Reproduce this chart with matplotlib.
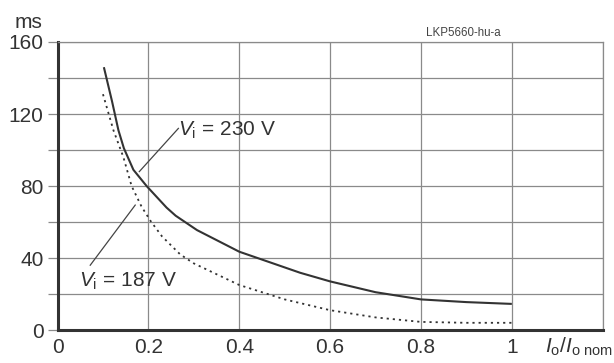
import matplotlib
matplotlib.use("Agg")
import matplotlib.pyplot as plt

plt.rcParams['font.family'] = ['Liberation Sans', 'DejaVu Sans']
plt.rcParams['mathtext.fontset'] = 'custom'
plt.rcParams['mathtext.rm'] = 'Liberation Sans'
plt.rcParams['mathtext.it'] = 'Liberation Sans:italic'

# hold-up time vs. relative output current
x_230 = [0.102, 0.12, 0.134, 0.146, 0.167, 0.196, 0.24, 0.26, 0.307, 0.4,
         0.534, 0.6, 0.7, 0.8, 0.9, 1.0]
t_230 = [146, 127, 111, 101, 89, 80, 68, 63.5, 55.5, 43.5,
         31.8, 27, 21, 17, 15.5, 14.5]
x_187 = [0.10, 0.123, 0.145, 0.163, 0.185, 0.205, 0.23, 0.27, 0.3, 0.4,
         0.5, 0.6, 0.7, 0.8, 0.9, 1.0]
t_187 = [131, 111, 96, 80, 68.5, 60.5, 52, 42, 37, 25,
         17, 11, 7, 4.5, 4, 4]

xticks = [0, 0.2, 0.4, 0.6, 0.8, 1.0]
xticklabels = ['0', '0.2', '0.4', '0.6', '0.8', '1']
yticks = [0, 40, 80, 120, 160]
ygrid = [20, 60, 100, 140]

fig = plt.figure(figsize=(6.14, 3.63), dpi=100)
ax = fig.add_axes([0.0937, 0.0909, 0.8879, 0.7934])

ax.plot(x_230, t_230, color='#333333', lw=1.5, solid_capstyle='butt')
ax.plot(x_187, t_187, color='#333333', lw=1.3, linestyle=(0, (1.2, 2.2)))

ax.set_xlim(0, 1.2)
ax.set_ylim(0, 160)
ax.set_xticks(xticks)
ax.set_xticklabels(xticklabels)
ax.set_xticks([1.2], minor=True)
ax.set_yticks(yticks)
ax.set_yticks(ygrid, minor=True)
ax.grid(True, which='both', color='#8a8a8a', lw=0.9)
ax.set_axisbelow(True)
ax.tick_params(axis='x', which='both', length=0, pad=6, labelsize=15, colors='#333333')
ax.tick_params(axis='y', which='both', length=7, width=0.9, color='#8a8a8a',
               pad=3, labelsize=15, labelcolor='#333333')

for s in ['top', 'right']:
    ax.spines[s].set_color('#8a8a8a')
    ax.spines[s].set_linewidth(0.9)
for s in ['left', 'bottom']:
    ax.spines[s].set_color('#333333')
    ax.spines[s].set_linewidth(2.2)

# leader lines and labels
ax.plot([0.180, 0.266], [88, 112], color='#444444', lw=0.9)
ax.plot([0.072, 0.171], [36, 69.4], color='#444444', lw=0.9)
ax.text(0.265, 108, r'$V_{\rm i}$ = 230 V', fontsize=15, color='#333333')
ax.text(0.048, 24, r'$V_{\rm i}$ = 187 V', fontsize=15, color='#333333')

fig.text(0.023, 0.939, 'ms', fontsize=15, color='#333333', va='center')
fig.text(0.754, 0.909, 'LKP5660-hu-a', fontsize=8.3, color='#444444', ha='center', va='center')
fig.text(0.998, 0.045, r'$I_{\rm o}/I_{\rm o\ nom}$', fontsize=15, color='#333333',
         ha='right', va='center')

fig.savefig('out.png', dpi=100)
